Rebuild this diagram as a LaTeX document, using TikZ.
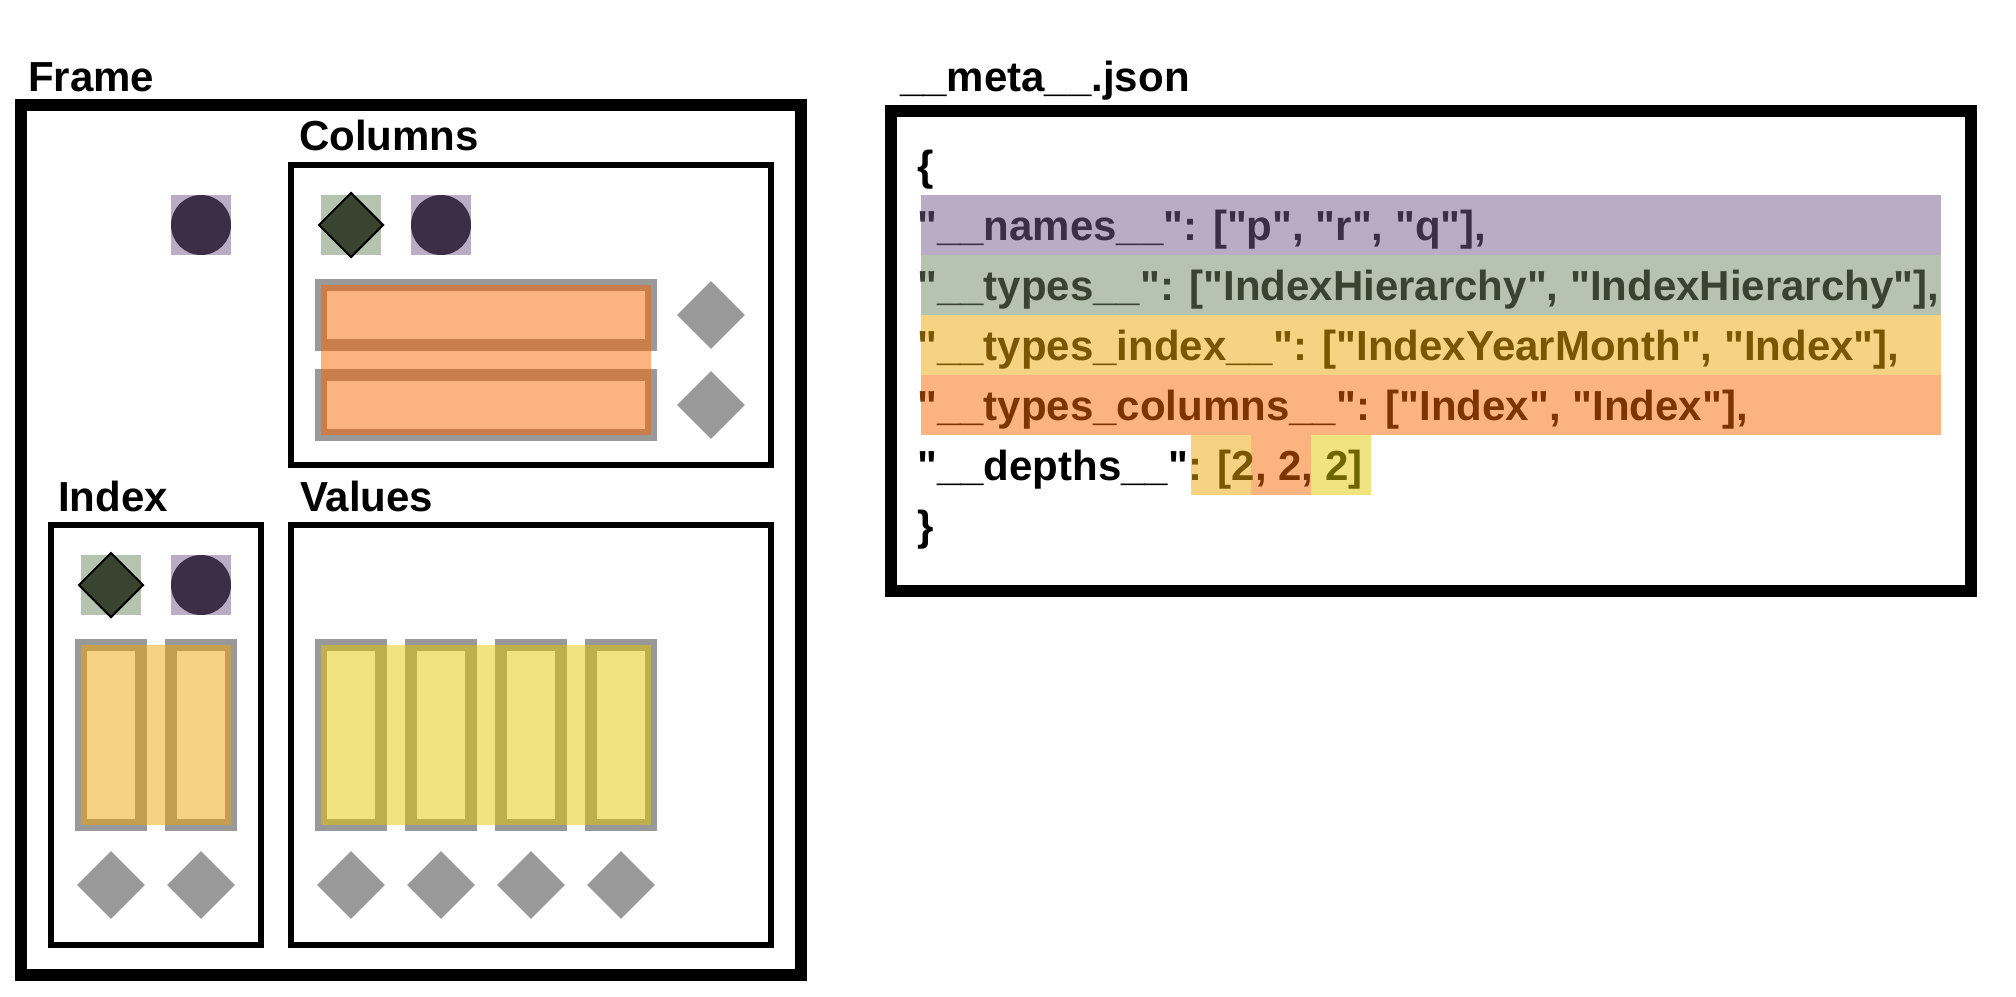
\documentclass[tikz,border=0pt]{standalone}
\usepackage{fontspec}
\setmainfont{Liberation Sans}[Ligatures=TeXOff]
\usetikzlibrary{shapes.geometric}
\definecolor{pbg}{RGB}{186,172,197}
\definecolor{pfg}{RGB}{61,46,71}
\definecolor{gbg}{RGB}{182,195,176}
\definecolor{gfg}{RGB}{56,67,48}
\definecolor{ibg}{RGB}{246,210,131}
\definecolor{ifg}{RGB}{122,86,0}
\definecolor{cbg}{RGB}{251,179,127}
\definecolor{cfg}{RGB}{125,52,0}
\definecolor{vbg}{RGB}{240,227,128}
\definecolor{vfg}{RGB}{110,100,0}
\definecolor{iov}{RGB}{237,165,7}
\definecolor{cov}{RGB}{247,103,0}
\definecolor{vov}{RGB}{225,199,1}
\definecolor{shgray}{RGB}{153,153,153}
\begin{document}
\begin{tikzpicture}[x=1pt,y=-1pt,
  bigbox/.style={draw=black,line width=12pt,inner sep=0pt},
  subbox/.style={draw=black,line width=6pt,inner sep=0pt},
  lbl/.style={anchor=base west,inner sep=0pt,font=\fontsize{42}{50}\selectfont\bfseries},
  jtxt/.style={anchor=base west,inner sep=0pt,font=\fontsize{42}{50}\selectfont\bfseries},
  sqp/.style={rectangle,fill=pbg,minimum width=60pt,minimum height=60pt,inner sep=0pt},
  sqg/.style={rectangle,fill=gbg,minimum width=60pt,minimum height=60pt,inner sep=0pt},
  dot/.style={circle,fill=pfg,minimum size=60pt,inner sep=0pt},
  ddia/.style={diamond,fill=gfg,draw=black,line width=2pt,minimum width=65pt,minimum height=65pt,inner sep=0pt},
  gdia/.style={diamond,fill=shgray,minimum width=68pt,minimum height=68pt,inner sep=0pt},
  gcell/.style={rectangle,draw=shgray,line width=12pt,inner sep=0pt},
  ovl/.style={rectangle,fill opacity=0.5,inner sep=0pt},
  band/.style={rectangle,inner sep=0pt,minimum height=60pt}
]
\useasboundingbox (0,0) rectangle (2016,996);

% ---------- Frame ----------
\node[lbl] (tframe) at (28,91) {Frame};
\node[bigbox,minimum width=780pt,minimum height=870pt] (frame) at (411,540) {};
\node[sqp] (fsq) at (201,225) {};
\node[dot] (fdot) at (fsq) {};

% ---------- Columns ----------
\node[lbl] (tcols) at (299,150) {Columns};
\node[subbox,minimum width=480pt,minimum height=300pt] (cols) at (531,315) {};
\node[sqg] (csq1) at (351,225) {};
\node[ddia] (cdia) at (csq1) {};
\node[sqp] (csq2) at (441,225) {};
\node[dot] (cdot) at (csq2) {};
\node[gcell,minimum width=330pt,minimum height=60pt] (crow1) at (486,315) {};
\node[gcell,minimum width=330pt,minimum height=60pt] (crow2) at (486,405) {};
\node[ovl,fill=cov,minimum width=330pt,minimum height=150pt] (cov) at (486,360) {};
\node[gdia] (cg1) at (711,315) {};
\node[gdia] (cg2) at (711,405) {};

% ---------- Index ----------
\node[lbl] (tidx) at (58,511) {Index};
\node[subbox,minimum width=210pt,minimum height=420pt] (idx) at (156,735) {};
\node[sqg] (isq1) at (111,585) {};
\node[ddia] (idia) at (isq1) {};
\node[sqp] (isq2) at (201,585) {};
\node[dot] (idot) at (isq2) {};
\node[gcell,minimum width=60pt,minimum height=180pt] (ibar1) at (111,735) {};
\node[gcell,minimum width=60pt,minimum height=180pt] (ibar2) at (201,735) {};
\node[ovl,fill=iov,minimum width=150pt,minimum height=180pt] (iov) at (156,735) {};
\node[gdia] (ig1) at (111,885) {};
\node[gdia] (ig2) at (201,885) {};

% ---------- Values ----------
\node[lbl] (tval) at (300,511) {Values};
\node[subbox,minimum width=480pt,minimum height=420pt] (vals) at (531,735) {};
\foreach \x/\n in {351/1,441/2,531/3,621/4}{
  \node[gcell,minimum width=60pt,minimum height=180pt] (vbar\n) at (\x,735) {};
}
\node[ovl,fill=vov,minimum width=330pt,minimum height=180pt] (vov) at (486,735) {};
\foreach \x/\n in {351/1,441/2,531/3,621/4}{
  \node[gdia] (vg\n) at (\x,885) {};
}

% ---------- __meta__.json ----------
\node[lbl] (tmeta) at (900,91) {\_\_meta\_\_.json};
\node[bigbox,minimum width=1080pt,minimum height=480pt] (meta) at (1431,351) {};
\node[band,fill=pbg,minimum width=1020pt] (bnames) at (1431,225) {};
\node[band,fill=gbg,minimum width=1020pt] (btypes) at (1431,285) {};
\node[band,fill=ibg,minimum width=1020pt] (bidx) at (1431,345) {};
\node[band,fill=cbg,minimum width=1020pt] (bcols) at (1431,405) {};
\node[band,fill=ibg,minimum width=60pt] (bd1) at (1221,465) {};
\node[band,fill=cbg,minimum width=60pt] (bd2) at (1281,465) {};
\node[band,fill=vbg,minimum width=60pt] (bd3) at (1341,465) {};

\node[jtxt] (jopen) at (917,180) {\{};
\node[jtxt,text=pfg] (jnames) at (917,240) {"\_\_names\_\_": ["p", "r", "q"],};
\node[jtxt,text=gfg] (jtypes) at (917,300) {"\_\_types\_\_": ["IndexHierarchy", "IndexHierarchy"],};
\node[jtxt,text=ifg] (jtidx) at (917,360) {"\_\_types\_index\_\_": ["IndexYearMonth", "Index"],};
\node[jtxt,text=cfg] (jtcols) at (917,420) {"\_\_types\_columns\_\_": ["Index", "Index"],};
\node[jtxt] (jdepths) at (917,480) {"\_\_depths\_\_"\textcolor{ifg}{: [2}\textcolor{cfg}{, 2,} \textcolor{vfg}{2]}};
\node[jtxt] (jclose) at (917,540) {\}};
\end{tikzpicture}
\end{document}
